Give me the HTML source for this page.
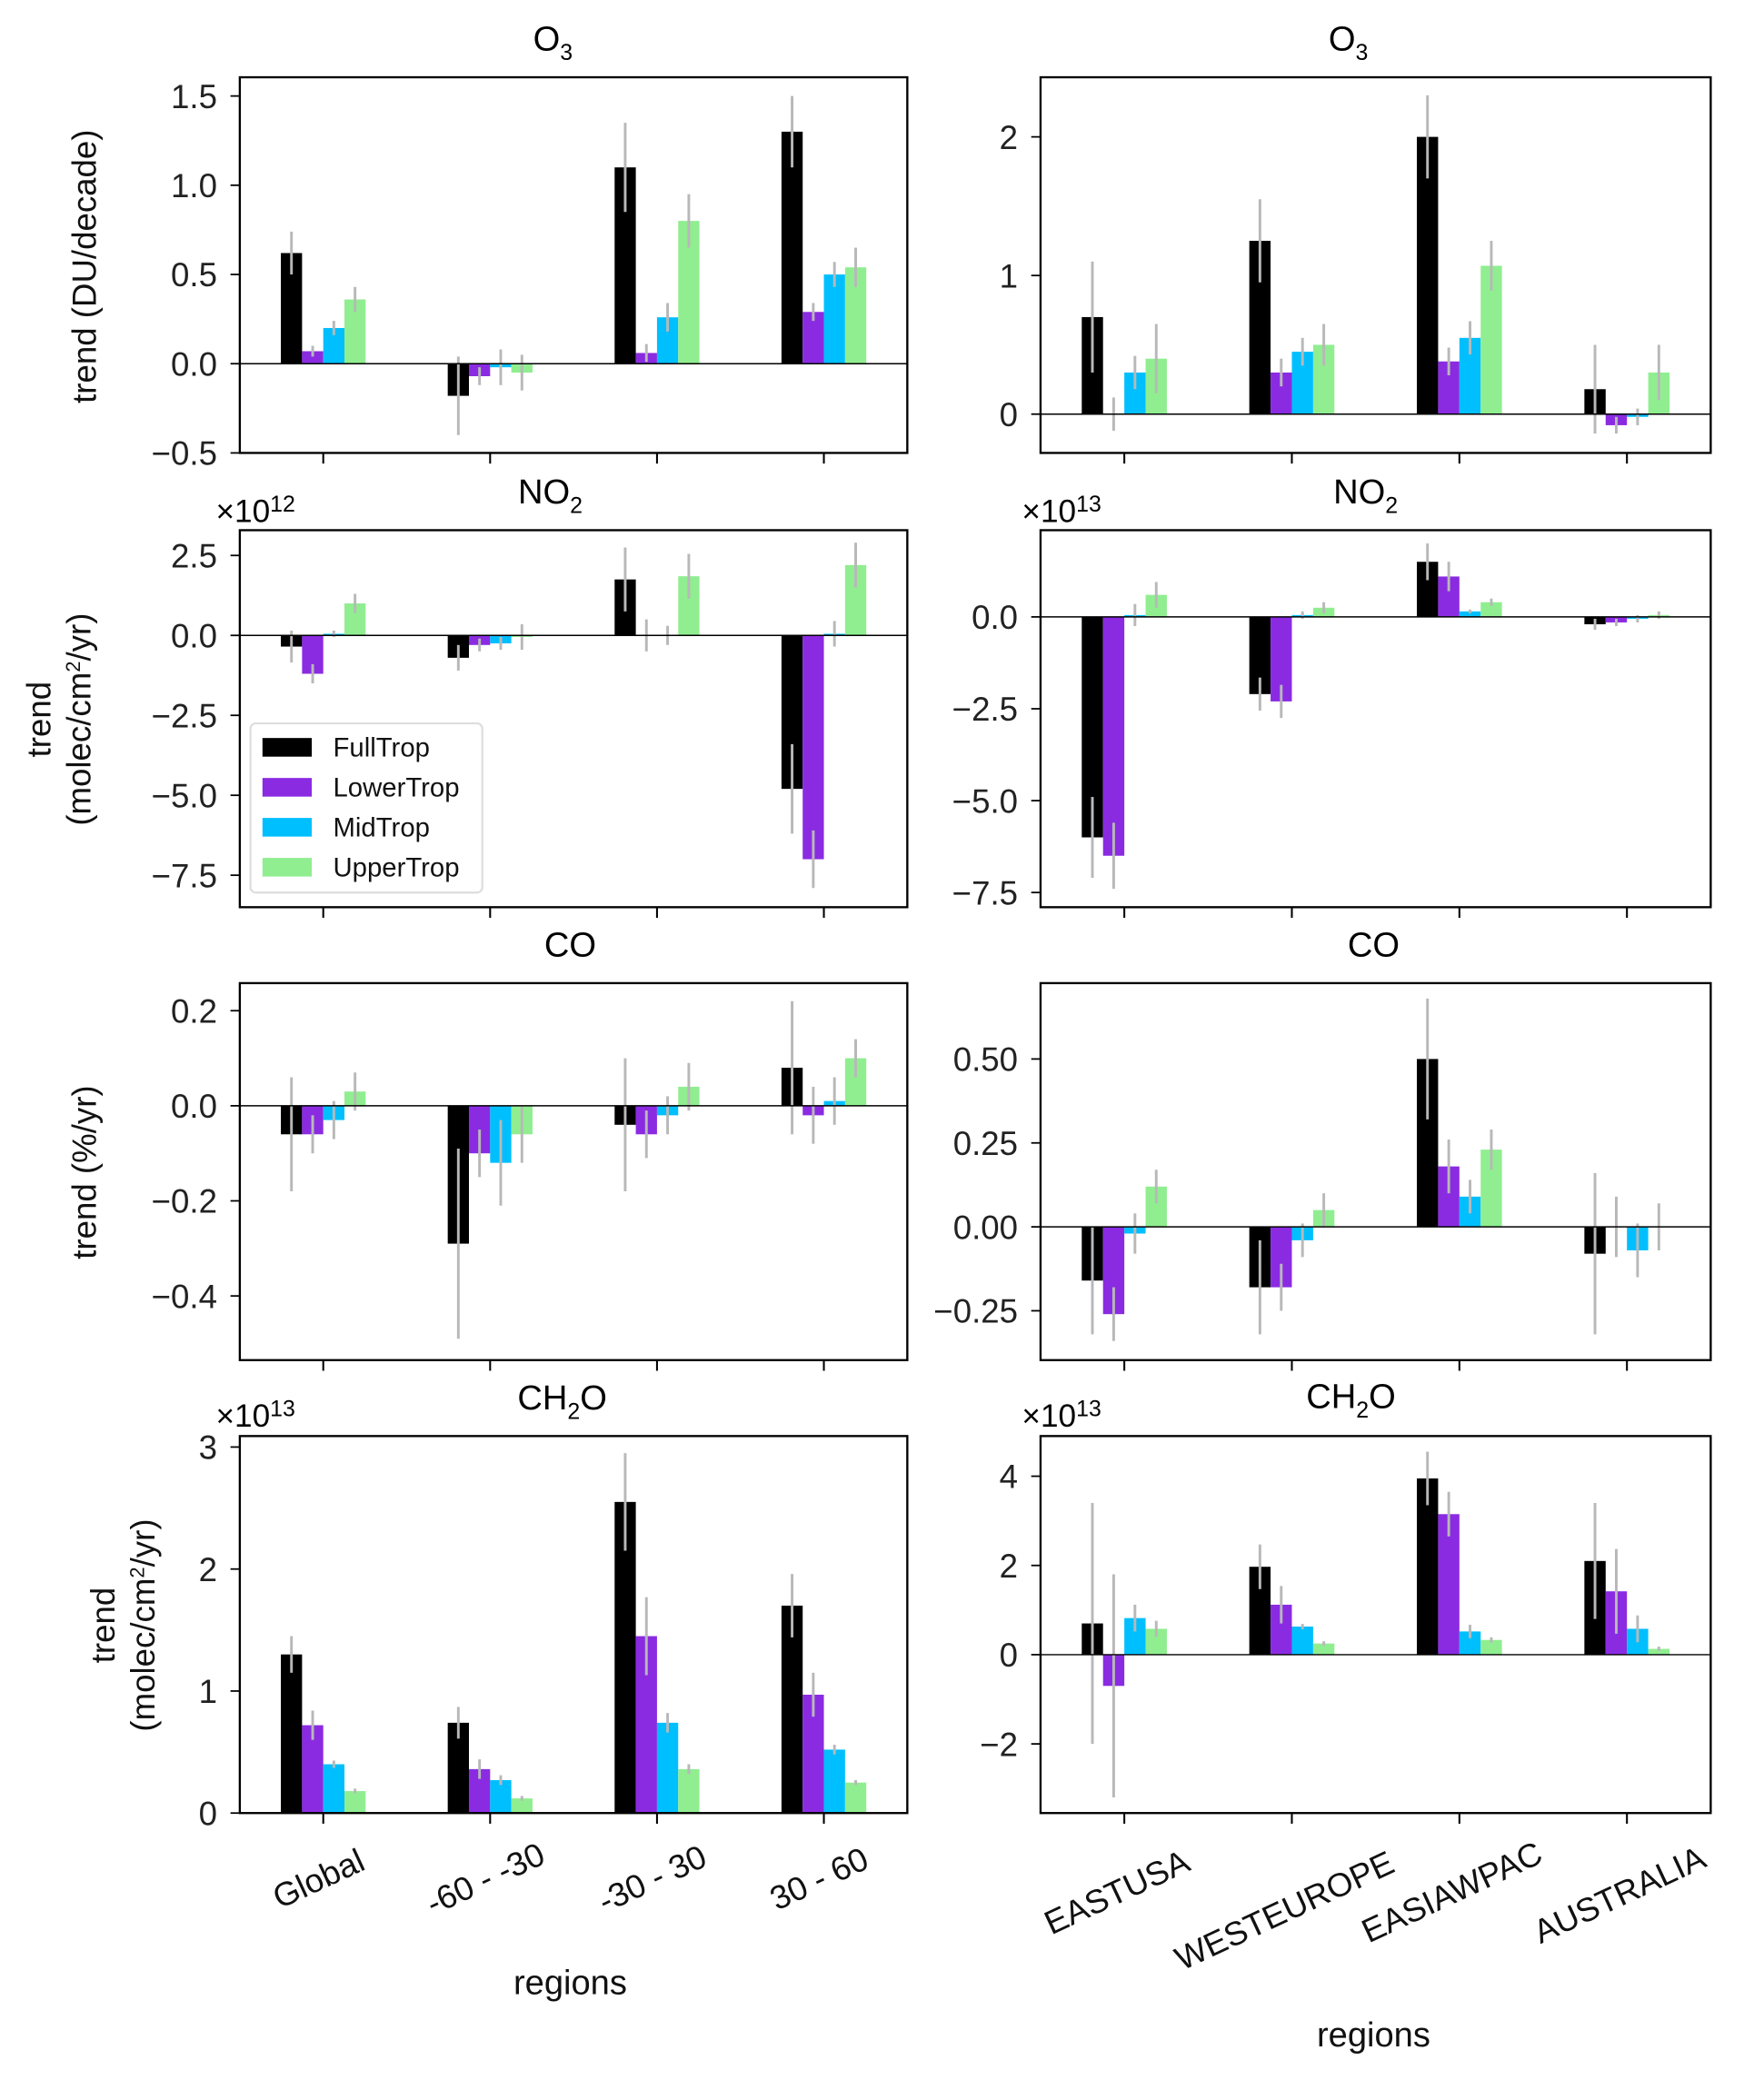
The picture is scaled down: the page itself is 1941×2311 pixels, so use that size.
<!DOCTYPE html>
<html><head><meta charset="utf-8"><style>
html,body{margin:0;padding:0;background:#fff;}
svg{display:block;font-family:"Liberation Sans","DejaVu Sans",sans-serif;}
</style></head><body>
<svg id="fig" width="1941" height="2311" viewBox="0 0 1324 1576.4" preserveAspectRatio="none" xmlns="http://www.w3.org/2000/svg"></svg>
<script>
const seriesNames = ["FullTrop","LowerTrop","MidTrop","UpperTrop"];
const seriesColors = ["#000000","#8a2be2","#00bfff","#90ee90"];
const leftRegions = ["Global","-60 - -30","-30 - 30","30 - 60"];
const rightRegions = ["EASTUSA","WESTEUROPE","EASIAWPAC","AUSTRALIA"];

const o3LeftVals = [[0.62,0.07,0.2,0.36],[-0.18,-0.07,-0.02,-0.05],[1.1,0.06,0.26,0.8],[1.3,0.29,0.5,0.54]];
const o3LeftErr = [[0.12,0.03,0.04,0.07],[0.22,0.05,0.1,0.1],[0.25,0.05,0.08,0.15],[0.2,0.05,0.07,0.11]];
const o3RightVals = [[0.7,0.0,0.3,0.4],[1.25,0.3,0.45,0.5],[2.0,0.38,0.55,1.07],[0.18,-0.08,-0.02,0.3]];
const o3RightErr = [[0.4,0.12,0.12,0.25],[0.3,0.1,0.1,0.15],[0.3,0.1,0.12,0.18],[0.32,0.06,0.06,0.2]];
const no2LeftVals = [[-0.35,-1.2,0.05,1.0],[-0.7,-0.3,-0.25,-0.05],[1.75,0.0,0.0,1.85],[-4.8,-7.0,0.05,2.2]];
const no2LeftErr = [[0.5,0.3,0.1,0.3],[0.4,0.2,0.2,0.4],[1.0,0.5,0.3,0.7],[1.4,0.9,0.4,0.7]];
const no2RightVals = [[-6.0,-6.5,0.05,0.6],[-2.1,-2.3,0.05,0.25],[1.5,1.1,0.15,0.4],[-0.2,-0.15,-0.05,0.05]];
const no2RightErr = [[1.1,0.9,0.3,0.35],[0.45,0.45,0.1,0.15],[0.5,0.4,0.05,0.1],[0.15,0.1,0.1,0.1]];
const coLeftVals = [[-0.06,-0.06,-0.03,0.03],[-0.29,-0.1,-0.12,-0.06],[-0.04,-0.06,-0.02,0.04],[0.08,-0.02,0.01,0.1]];
const coLeftErr = [[0.12,0.04,0.04,0.04],[0.2,0.05,0.09,0.06],[0.14,0.05,0.04,0.05],[0.14,0.06,0.05,0.04]];
const coRightVals = [[-0.16,-0.26,-0.02,0.12],[-0.18,-0.18,-0.04,0.05],[0.5,0.18,0.09,0.23],[-0.08,0.0,-0.07,0.0]];
const coRightErr = [[0.16,0.08,0.06,0.05],[0.14,0.07,0.05,0.05],[0.18,0.08,0.05,0.06],[0.24,0.09,0.08,0.07]];
const ch2oLeftVals = [[1.3,0.72,0.4,0.18],[0.74,0.36,0.27,0.12],[2.55,1.45,0.74,0.36],[1.7,0.97,0.52,0.25]];
const ch2oLeftErr = [[0.15,0.12,0.03,0.02],[0.13,0.08,0.04,0.02],[0.4,0.32,0.08,0.04],[0.26,0.18,0.04,0.02]];
const ch2oRightVals = [[0.7,-0.7,0.82,0.58],[1.97,1.12,0.63,0.25],[3.95,3.15,0.52,0.33],[2.1,1.42,0.58,0.13]];
const ch2oRightErr = [[2.7,2.5,0.3,0.18],[0.5,0.42,0.06,0.05],[0.6,0.5,0.15,0.06],[1.3,0.95,0.3,0.05]];

const tickO3L = [-0.5,0.0,0.5,1.0,1.5];
const tickO3R = [0,1,2];
const tickNO2L = [-7.5,-5.0,-2.5,0.0,2.5];
const tickNO2R = [-7.5,-5.0,-2.5,0.0];
const tickCOL = [-0.4,-0.2,0.0,0.2];
const tickCOR = [-0.25,0.00,0.25,0.50];
const tickCH2OL = [0,1,2,3];
const tickCH2OR = [-2,0,2,4];

const NS="http://www.w3.org/2000/svg";
const svg=document.getElementById('fig');
function mk(tag,attrs,parent){const e=document.createElementNS(NS,tag);for(const k in attrs)e.setAttribute(k,attrs[k]);(parent||svg).appendChild(e);return e;}

function panel(o){
  const g=mk('g',{});
  
  
  const y=v=>o.y1-(v-o.ymin)/(o.ymax-o.ymin)*(o.y1-o.y0);
  const gw=(o.x1-o.x0)/4.0;
  const cx=i=>o.x0+gw*(i+0.5);
  const bw=gw*0.127;
  o.vals.forEach((row,i)=>{
    row.forEach((v,s)=>{
      const bx=cx(i)-2*bw+s*bw;
      const r=mk('rect',{x:bx,y:Math.min(y(v),y(0)),width:bw,height:Math.max(Math.abs(y(v)-y(0)),0.01),fill:seriesColors[s]},g);
      
      
    });
  });
  o.vals.forEach((row,i)=>{
    row.forEach((v,s)=>{
      const bx=cx(i)-2*bw+s*bw+bw/2;
      const e=o.err[i][s];
      const l=mk('line',{x1:bx,x2:bx,y1:y(v-e),y2:y(v+e),stroke:'#b8b8b8','stroke-width':2},g);
      
      
    });
  });
  mk('line',{x1:o.x0,x2:o.x1,y1:y(0),y2:y(0),stroke:'#000','stroke-width':1},g);
  const fr=mk('rect',{x:o.x0,y:o.y0,width:o.x1-o.x0,height:o.y1-o.y0,fill:'none',stroke:'#000','stroke-width':1.6},g);
  
  
  o.ticks.forEach((t,k)=>{
    mk('line',{x1:o.x0-7,x2:o.x0,y1:y(t),y2:y(t),stroke:'#000','stroke-width':1.2},g);
    const tx=mk('text',{x:o.x0-17,y:y(t)+9,'text-anchor':'end','font-size':25,fill:'#222'},g);
    tx.textContent=(t<0?'\u2212':'')+o.fmt(Math.abs(t));
    
    
  });
  for(let i=0;i<4;i++) mk('line',{x1:cx(i),x2:cx(i),y1:o.y1,y2:o.y1+8,stroke:'#000','stroke-width':1.4},g);
  return {g,cx,y};
}

function title(x,yy,main,sub,tail,name){
  const t=mk('text',{x:x,y:yy,'text-anchor':'middle','font-size':26,fill:'#000'});
  
  
  const a=mk('tspan',{},t);a.textContent=main;
  const b=mk('tspan',{dy:7,'font-size':17},t);b.textContent=sub;
  if(tail){const c=mk('tspan',{dy:-7},t);c.textContent=tail;}
}
function mult(x,yy,exp,name){
  const t=mk('text',{x:x,y:yy,'font-size':24,fill:'#000'});
  
  
  const a=mk('tspan',{},t);a.textContent='\u00d710';
  const b=mk('tspan',{dy:-8,'font-size':17},t);b.textContent=exp;
}
function ylab(x,yy,lines,name){
  const t=mk('text',{transform:`translate(${x},${yy}) rotate(-90)`,'text-anchor':'middle','font-size':25,fill:'#111'});
  
  
  lines.forEach((s,i)=>{const sp=mk('tspan',{x:0,dy:i?30:0},t);sp.innerHTML=s;});
}

const f1=v=>v.toFixed(1), f0=v=>v.toFixed(0), f2=v=>v.toFixed(2);
const L={x0:180,x1:681}, R={x0:781,x1:1284};
panel({name:'o3-global-panel',...L,y0:58,y1:340,ymin:-0.5,ymax:1.605,vals:o3LeftVals,err:o3LeftErr,ticks:tickO3L,fmt:f1});
panel({name:'o3-regional-panel',...R,y0:58,y1:340,ymin:-0.28,ymax:2.43,vals:o3RightVals,err:o3RightErr,ticks:tickO3R,fmt:f0});
panel({name:'no2-global-panel',...L,y0:398,y1:681,ymin:-8.5,ymax:3.29,vals:no2LeftVals,err:no2LeftErr,ticks:tickNO2L,fmt:f1});
panel({name:'no2-regional-panel',...R,y0:398,y1:681,ymin:-7.9,ymax:2.36,vals:no2RightVals,err:no2RightErr,ticks:tickNO2R,fmt:f1});
panel({name:'co-global-panel',...L,y0:738,y1:1021,ymin:-0.535,ymax:0.258,vals:coLeftVals,err:coLeftErr,ticks:tickCOL,fmt:f1});
panel({name:'co-regional-panel',...R,y0:738,y1:1021,ymin:-0.397,ymax:0.726,vals:coRightVals,err:coRightErr,ticks:tickCOR,fmt:f2});
panel({name:'ch2o-global-panel',...L,y0:1078,y1:1361,ymin:0,ymax:3.09,vals:ch2oLeftVals,err:ch2oLeftErr,ticks:tickCH2OL,fmt:f0});
panel({name:'ch2o-regional-panel',...R,y0:1078,y1:1361,ymin:-3.55,ymax:4.9,vals:ch2oRightVals,err:ch2oRightErr,ticks:tickCH2OR,fmt:f0});

title(415,38,'O','3','','o3-title-left');
title(1012,38,'O','3','','o3-title-right');
title(413,378,'NO','2','','no2-title-left');
title(1025,378,'NO','2','','no2-title-right');
title(428,718,'CO','','','co-title-left');
title(1031,718,'CO','','','co-title-right');
title(422,1058,'CH','2','O','ch2o-title-left');
title(1014,1057,'CH','2','O','ch2o-title-right');
mult(162,392,'12','no2-left-multiplier');
mult(767,392,'13','no2-right-multiplier');
mult(162,1071,'13','ch2o-left-multiplier');
mult(767,1071,'13','ch2o-right-multiplier');

ylab(72,200,['trend (DU/decade)'],'o3-y-axis-title');
ylab(38,540,['trend','(molec/cm<tspan font-size="15" dy="-8">2</tspan><tspan dy="8">/yr)</tspan>'],'no2-y-axis-title');
ylab(72,880,['trend (%/yr)'],'co-y-axis-title');
ylab(86,1220,['trend','(molec/cm<tspan font-size="15" dy="-8">2</tspan><tspan dy="8">/yr)</tspan>'],'ch2o-y-axis-title');

const lgw=(L.x1-L.x0)/4, rgw=(R.x1-R.x0)/4;
leftRegions.forEach((s,i)=>{
  const x=L.x0+lgw*(i+0.5);
  const t=mk('text',{transform:`translate(${x},${1418}) rotate(-25)`,'text-anchor':'middle','font-size':25,fill:'#111'});
  t.textContent=s;
  
  
});
const rOff=[1428,1442,1428,1430];
rightRegions.forEach((s,i)=>{
  const x=R.x0+rgw*(i+0.5)-2;
  const t=mk('text',{transform:`translate(${x},${rOff[i]}) rotate(-25)`,'text-anchor':'middle','font-size':25,fill:'#111'});
  t.textContent=s;
  
  
});
let xt=mk('text',{x:428,y:1497,'text-anchor':'middle','font-size':26,fill:'#111'});xt.textContent='regions';


xt=mk('text',{x:1031,y:1536,'text-anchor':'middle','font-size':26,fill:'#111'});xt.textContent='regions';



const lg=mk('g',{});


mk('rect',{x:188,y:543,width:174,height:127,rx:4,fill:'#fff',stroke:'#ddd','stroke-width':1.5},lg);
seriesNames.forEach((s,i)=>{
  const yy=561+i*30;
  const sw=mk('rect',{x:197,y:yy-7,width:37,height:14,fill:seriesColors[i]},lg);
  
  
  const t=mk('text',{x:250,y:yy+7,'font-size':20,fill:'#111'},lg);
  t.textContent=s;
  
  
});
</script>
</body></html>
